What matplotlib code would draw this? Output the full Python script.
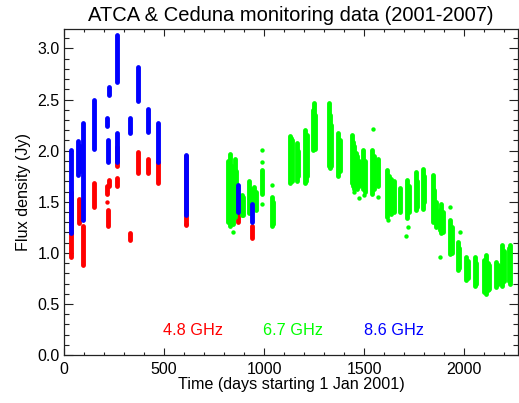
import numpy as np
import matplotlib
matplotlib.use("Agg")
import matplotlib.pyplot as plt
from matplotlib.ticker import MultipleLocator

plt.rcParams['font.family'] = ['Liberation Sans', 'DejaVu Sans']

# each epoch: day, lowest flux, highest flux (Jy)
red_day = [36, 74, 97, 152, 214, 227, 222, 264, 264, 332, 372, 421, 471, 611, 872, 941]
red_lo = [0.96, 1.29, 0.88, 1.45, 1.58, 1.65, 1.26, 1.85, 1.65, 1.13, 1.78, 1.78, 1.68, 1.27, 1.30, 1.15]
red_hi = [1.60, 1.53, 1.26, 1.68, 1.65, 1.71, 1.42, 2.04, 1.73, 1.19, 1.99, 1.92, 1.89, 1.95, 1.38, 1.26]
red_pt_day = [214]
red_pt_flux = [1.50]

green_day = [822, 830, 838, 846, 857, 862, 888, 893, 925, 934, 950, 958, 990, 1038, 1046,
             1131, 1136, 1141, 1165, 1172, 1205, 1209, 1213, 1244, 1248, 1253,
             1325, 1330, 1335, 1372, 1378, 1440, 1446, 1452, 1458, 1465, 1475,
             1497, 1505, 1540, 1548, 1569, 1617, 1625, 1637, 1648, 1681, 1715,
             1725, 1761, 1766, 1794, 1800, 1844, 1852, 1862, 1880, 1886, 1893,
             1931, 1938, 1969, 1975, 2011, 2017, 2052, 2058, 2097, 2104, 2110,
             2118, 2125, 2161, 2167, 2191, 2197, 2222, 2228]
green_lo = [1.30, 1.26, 1.35, 1.28, 1.35, 1.40, 1.37, 1.37, 1.39, 1.42, 1.45, 1.42, 1.58, 1.26, 1.28,
            1.68, 1.70, 1.70, 1.70, 1.75, 1.68, 1.70, 1.75, 2.01, 2.10, 2.02,
            1.85, 1.83, 1.85, 1.75, 1.80, 1.68, 1.65, 1.62, 1.64, 1.62, 1.65,
            1.62, 1.60, 1.58, 1.62, 1.65, 1.35, 1.40, 1.38, 1.40, 1.40, 1.34,
            1.40, 1.42, 1.45, 1.43, 1.50, 1.30, 1.32, 1.25, 1.22, 1.19, 1.20,
            0.99, 1.00, 0.83, 0.85, 0.73, 0.75, 0.68, 0.70, 0.62, 0.63, 0.60,
            0.64, 0.65, 0.67, 0.70, 0.68, 0.72, 0.72, 0.70]
green_hi = [1.90, 1.97, 1.85, 1.80, 1.92, 1.80, 1.57, 1.55, 1.70, 1.62, 1.64, 1.60, 1.81, 1.55, 1.50,
            2.14, 2.12, 2.10, 2.07, 2.00, 2.20, 2.12, 2.15, 2.40, 2.47, 2.35,
            2.47, 2.35, 2.25, 2.17, 2.10, 2.15, 2.08, 2.05, 1.98, 1.95, 1.90,
            2.01, 1.90, 2.01, 1.95, 1.92, 1.81, 1.75, 1.72, 1.70, 1.63, 1.71,
            1.65, 1.79, 1.70, 1.82, 1.75, 1.76, 1.61, 1.50, 1.42, 1.48, 1.40,
            1.32, 1.25, 1.11, 1.05, 0.96, 0.92, 0.96, 0.90, 0.93, 0.88, 0.98,
            0.90, 0.88, 0.91, 0.88, 1.08, 1.02, 1.05, 1.08]
green_pt_day = [844, 990, 992, 990, 1040, 1477, 1502, 1452, 1544, 1569, 1619,
                1708, 1719, 1881, 1931, 1977]
green_pt_flux = [1.20, 2.01, 1.89, 1.48, 1.66, 1.54, 1.57, 1.60, 2.21, 1.55, 1.32,
                 1.16, 1.25, 0.96, 1.45, 1.20]

blue_day = [36, 70, 80, 97, 152, 214, 227, 222, 264, 264, 332, 372, 421, 471, 611, 872, 941]
blue_lo = [1.19, 1.76, 1.80, 1.32, 2.02, 2.24, 2.54, 1.89, 2.67, 1.89, 2.17, 2.49, 2.18, 1.89, 1.37, 1.40, 1.30]
blue_hi = [2.01, 2.09, 2.05, 2.27, 2.50, 2.32, 2.62, 2.10, 3.13, 2.17, 2.32, 2.82, 2.41, 2.27, 1.96, 1.66, 1.48]
blue_pt_day = [611]
blue_pt_flux = [1.28]

bands = ["4.8 GHz", "6.7 GHz", "8.6 GHz"]
colors = ["#ff0000", "#00ff00", "#0000ff"]

fig = plt.figure(figsize=(5.19, 4.03), dpi=100)
ax = fig.add_axes([0.1233, 0.119, 0.875, 0.809])

series = [(red_day, red_lo, red_hi, red_pt_day, red_pt_flux),
          (green_day, green_lo, green_hi, green_pt_day, green_pt_flux),
          (blue_day, blue_lo, blue_hi, blue_pt_day, blue_pt_flux)]
for (d, lo, hi, pd, pf), c in zip(series, colors):
    ax.vlines(d, lo, hi, colors=c, linewidth=3.5, capstyle='round')
    ax.scatter(pd, pf, s=10, color=c, linewidths=0)

for name, c, xf in zip(bands, colors, [0.285, 0.505, 0.727]):
    ax.text(xf, 0.075, name, color=c, fontsize=11.7, ha='center', va='center',
            transform=ax.transAxes)

ax.set_xlim(0, 2270)
ax.set_ylim(0, 3.19)
ax.xaxis.set_major_locator(MultipleLocator(500))
ax.xaxis.set_minor_locator(MultipleLocator(100))
ax.yaxis.set_major_locator(MultipleLocator(0.5))
ax.yaxis.set_minor_locator(MultipleLocator(0.1))
ax.yaxis.set_major_formatter(plt.FormatStrFormatter('%.1f'))
ax.tick_params(which='both', direction='in', top=True, right=True,
               labelsize=11.5, width=0.8, color='#222222')
ax.tick_params(axis='x', which='major', length=4.7, pad=5)
ax.tick_params(axis='x', which='minor', length=2.3)
ax.tick_params(axis='y', which='major', length=6.5, pad=3)
ax.tick_params(axis='y', which='minor', length=3.3)
for s in ax.spines.values():
    s.set_linewidth(0.9)
    s.set_color('#222222')

ax.set_title("ATCA & Ceduna monitoring data (2001-2007)", fontsize=14.5, pad=6)
ax.set_xlabel("Time (days starting 1 Jan 2001)", fontsize=11.6, labelpad=0)
ax.set_ylabel("Flux density (Jy)", fontsize=11.6, labelpad=5)

fig.savefig("out.png", dpi=100)
